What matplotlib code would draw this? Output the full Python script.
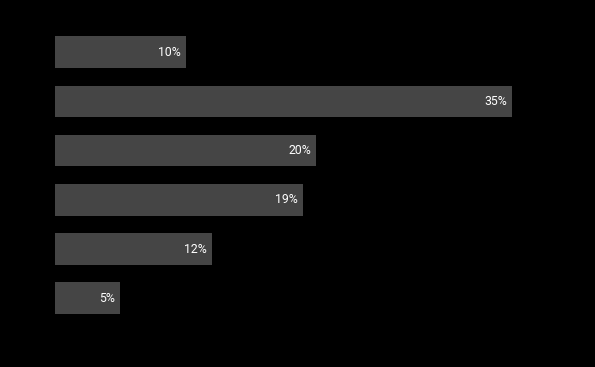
import matplotlib.pyplot as plt

values = [10, 35, 20, 19, 12, 5]
labels = ["10%", "35%", "20%", "19%", "12%", "5%"]

W, H = 595, 367
fig = plt.figure(figsize=(W / 100, H / 100), dpi=100, facecolor="black")

# axes placed in pixels: left 55, 13.06 px per percent, bar pitch 49.2 px
left, top = 55, 52.2 - 24.6
width = 40 * 13.06
height = 6 * 49.2
ax = fig.add_axes([left / W, 1 - (top + height) / H, width / W, height / H])
ax.set_facecolor("black")

pos = list(range(len(values)))
ax.barh(pos, values, height=0.64, color="#454545")
for y, v, lab in zip(pos, values, labels):
    ax.text(v - 0.38, y, lab, ha="right", va="center", color="white",
            fontsize=8.8, family="Roboto")

ax.set_xlim(0, 40)
ax.set_ylim(5.5, -0.5)
ax.axis("off")

fig.savefig("out.png", dpi=100, facecolor="black")
